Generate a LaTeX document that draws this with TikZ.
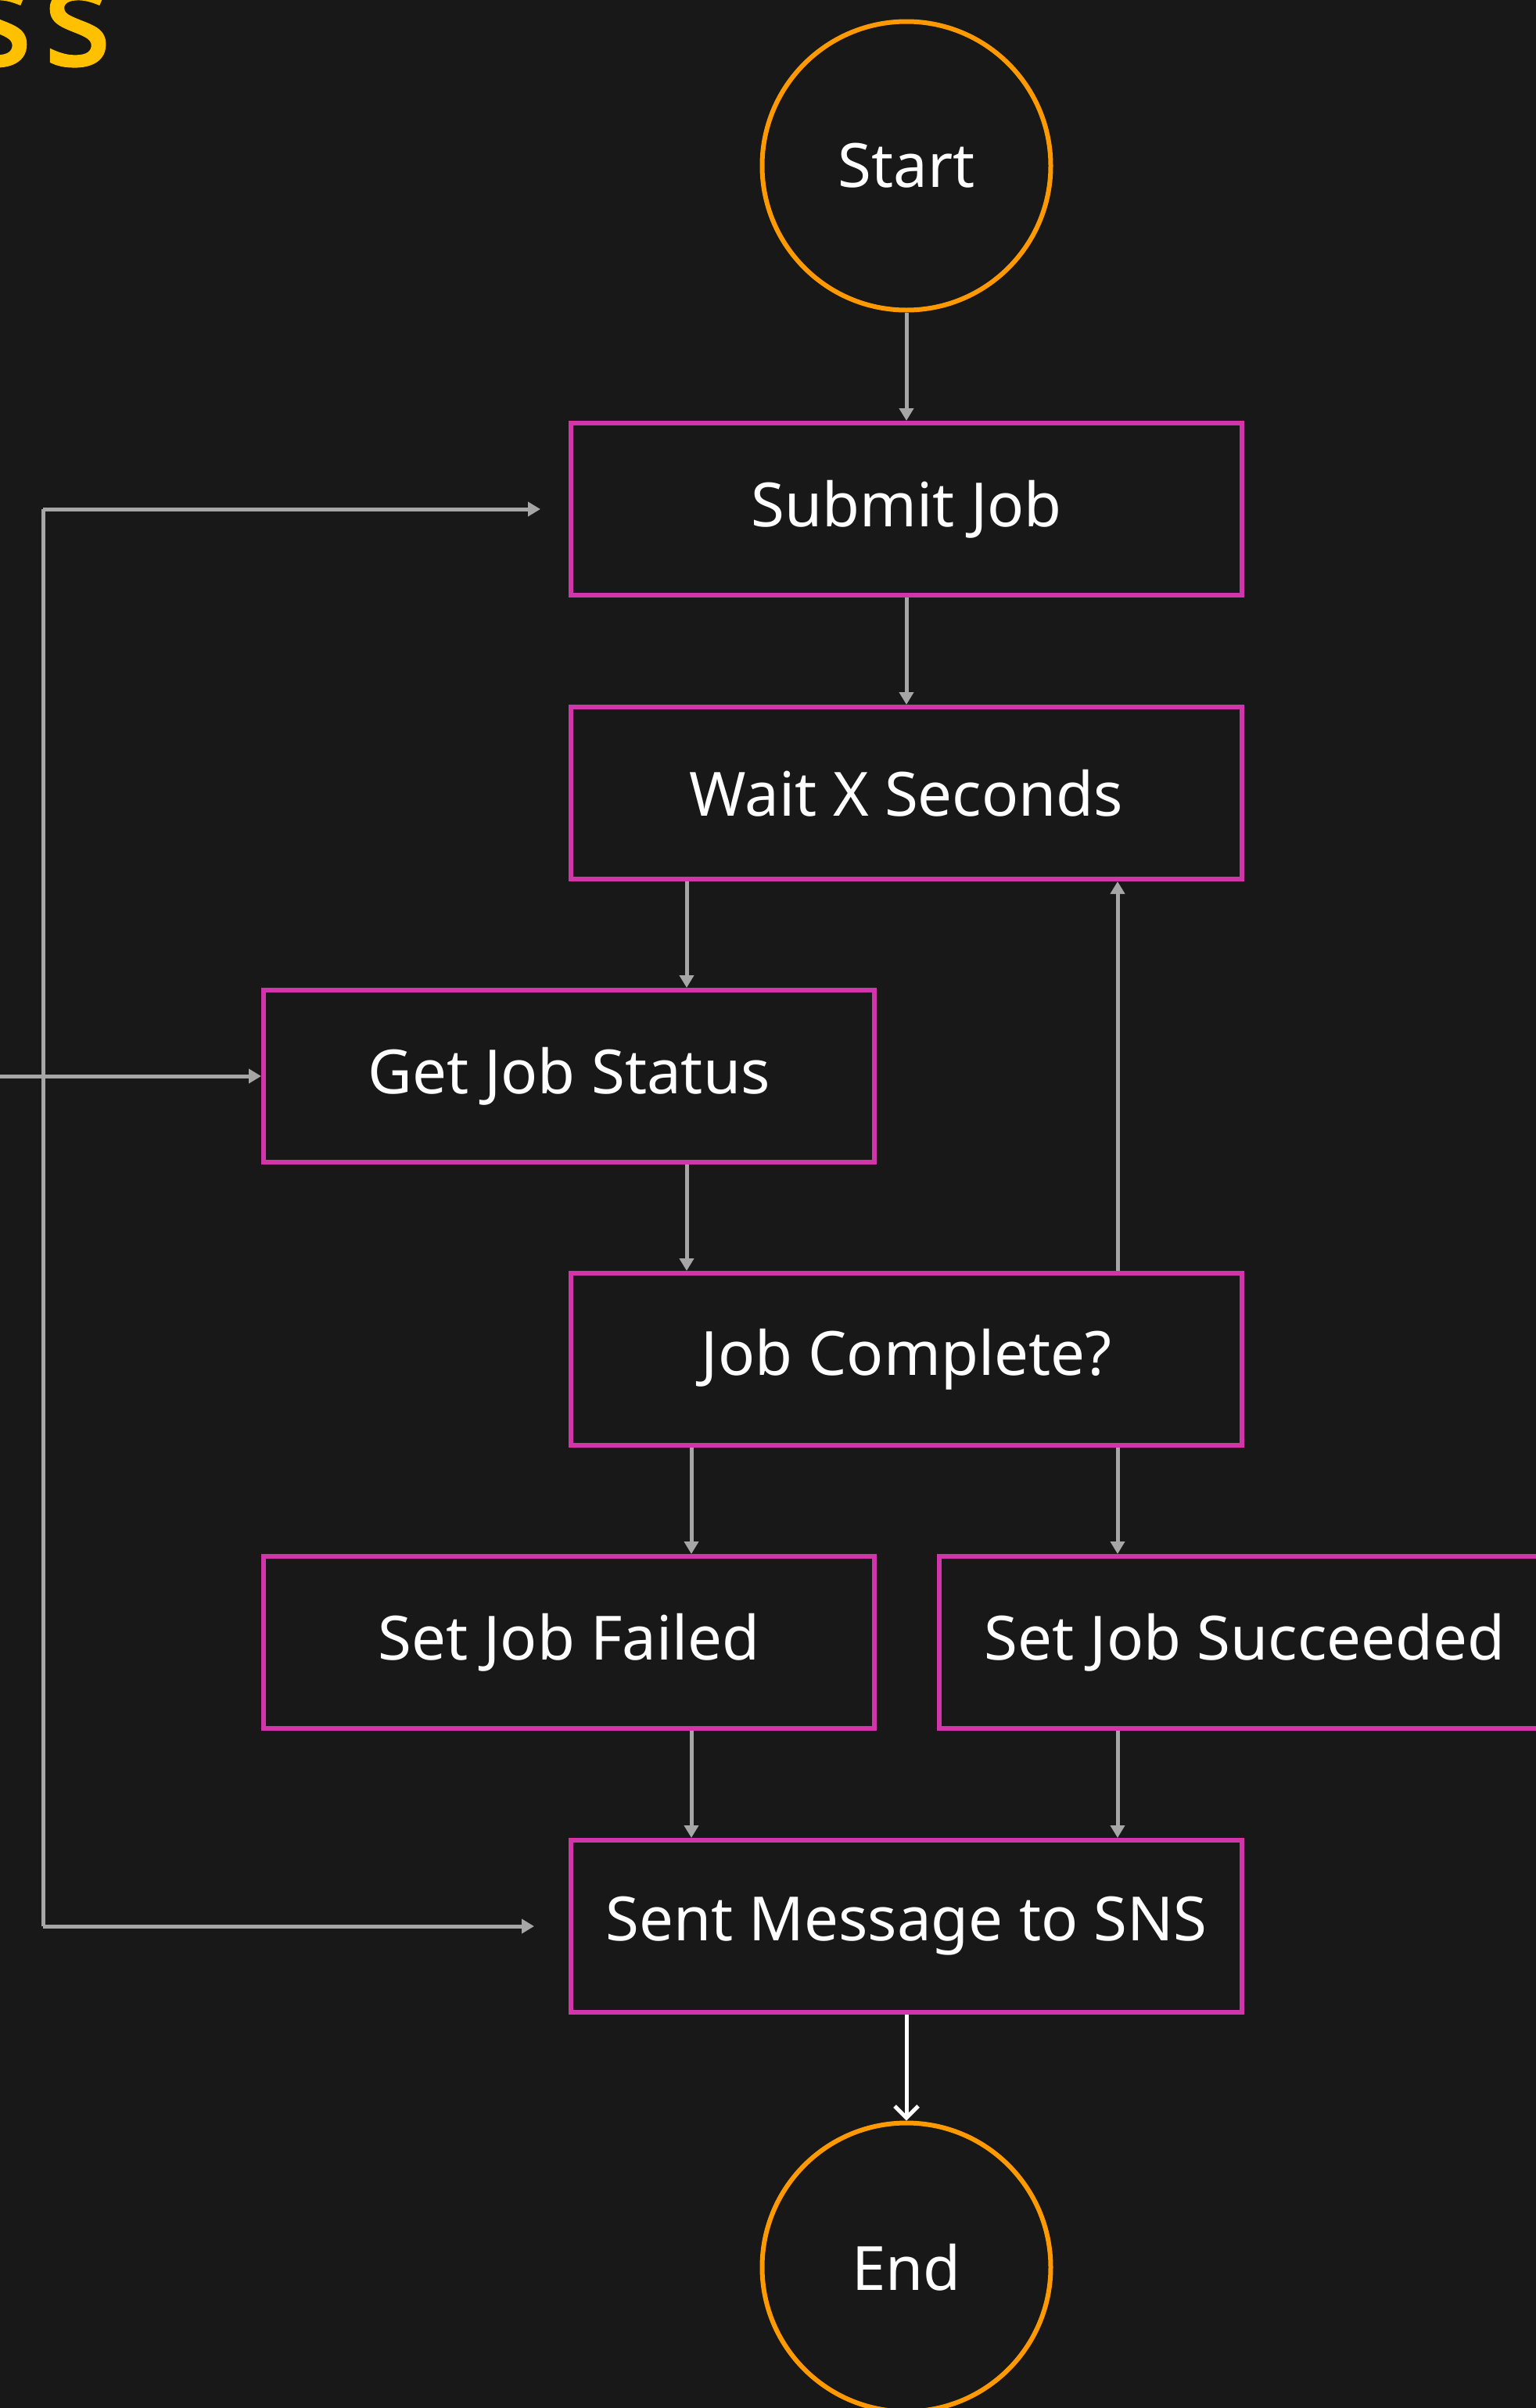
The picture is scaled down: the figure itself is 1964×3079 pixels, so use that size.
\documentclass[tikz,border=0pt]{standalone}
\usepackage{fontspec}
\setmainfont{Noto Sans}
\usetikzlibrary{arrows.meta,shapes.geometric}

\definecolor{bgdark}{HTML}{181818}
\definecolor{boxpink}{HTML}{D234A9}
\definecolor{termorange}{HTML}{FF9900}
\definecolor{linkgrey}{HTML}{A6A6A6}
\definecolor{titleyellow}{HTML}{FFC000}

\tikzset{
  stepbox/.style={draw=boxpink, line width=6pt, rectangle, minimum height=220pt,
    inner sep=0pt, text=white, font=\fontsize{78}{84}\selectfont},
  wide/.style={minimum width=858pt},
  narrow/.style={minimum width=781pt},
  terminal/.style={draw=termorange, line width=6pt, circle, minimum size=369pt,
    inner sep=0pt, text=white, font=\fontsize{78}{84}\selectfont},
  flow/.style={draw=linkgrey, line width=5pt,
    -{Triangle[width=18pt,length=16pt]}},
  rail/.style={draw=linkgrey, line width=5pt},
  finalflow/.style={draw=white, line width=5pt,
    -{Straight Barb[width=30pt,length=15pt]}},
}

\begin{document}
\begin{tikzpicture}[x=1pt,y=-1pt]
  \useasboundingbox (0,0) rectangle (1964,3079);
  \fill[bgdark] (0,0) rectangle (1964,3079);

  % heading fragment
  \node[anchor=base east, text=titleyellow, inner sep=0pt,
        font=\fontsize{178}{178}\selectfont\addfontfeature{FakeBold=2}] (heading)
        at (142,83) {s\kern16pt s};

  % terminals
  \node[terminal] (start) at (1159,212) {Start};
  \node[terminal] (end) at (1159,2899) {End};

  % steps
  \node[stepbox,wide]   (submit)   at (1159,651)  {Submit Job};
  \node[stepbox,wide]   (wait)     at (1159,1014) {Wait X Seconds};
  \node[stepbox,narrow] (status)   at (727.5,1376) {Get Job Status};
  \node[stepbox,wide]   (complete) at (1159,1738) {Job Complete?};
  \node[stepbox,narrow] (failed)   at (727.5,2100) {Set Job Failed};
  \node[stepbox,narrow] (succ)     at (1591.5,2100) {Set Job Succeeded};
  \node[stepbox,wide]   (sns)      at (1159,2463) {Sent Message to SNS};

  % column guides for the vertical connectors
  \coordinate (colA) at (878,0);
  \coordinate (colB) at (884,0);
  \coordinate (colC) at (1429,0);

  % main flow
  \draw[flow] (start) -- (submit);
  \draw[flow] (submit) -- (wait);
  \draw[flow] (wait.south -| colA) -- (status.north -| colA);
  \draw[flow] (status.south -| colA) -- (complete.north -| colA);
  \draw[flow] (complete.north -| colC) -- (wait.south -| colC);
  \draw[flow] (complete.south -| colB) -- (failed.north -| colB);
  \draw[flow] (complete.south -| colC) -- (succ.north -| colC);
  \draw[flow] (failed.south -| colB) -- (sns.north -| colB);
  \draw[flow] (succ.south -| colC) -- (sns.north -| colC);
  \draw[finalflow] (sns) -- (end);

  % left-hand rail
  \coordinate (railTop) at (55,651);
  \coordinate (railBot) at (55,2463);
  \coordinate (feed) at (0,1376);
  \draw[rail] (railBot) -- (railTop);
  \draw[flow, shorten >=36pt] (railTop) -- (submit.west);
  \draw[flow, shorten >=44pt] (railBot) -- (sns.west);
  \draw[flow] (feed) -- (status.west);
\end{tikzpicture}
\end{document}
